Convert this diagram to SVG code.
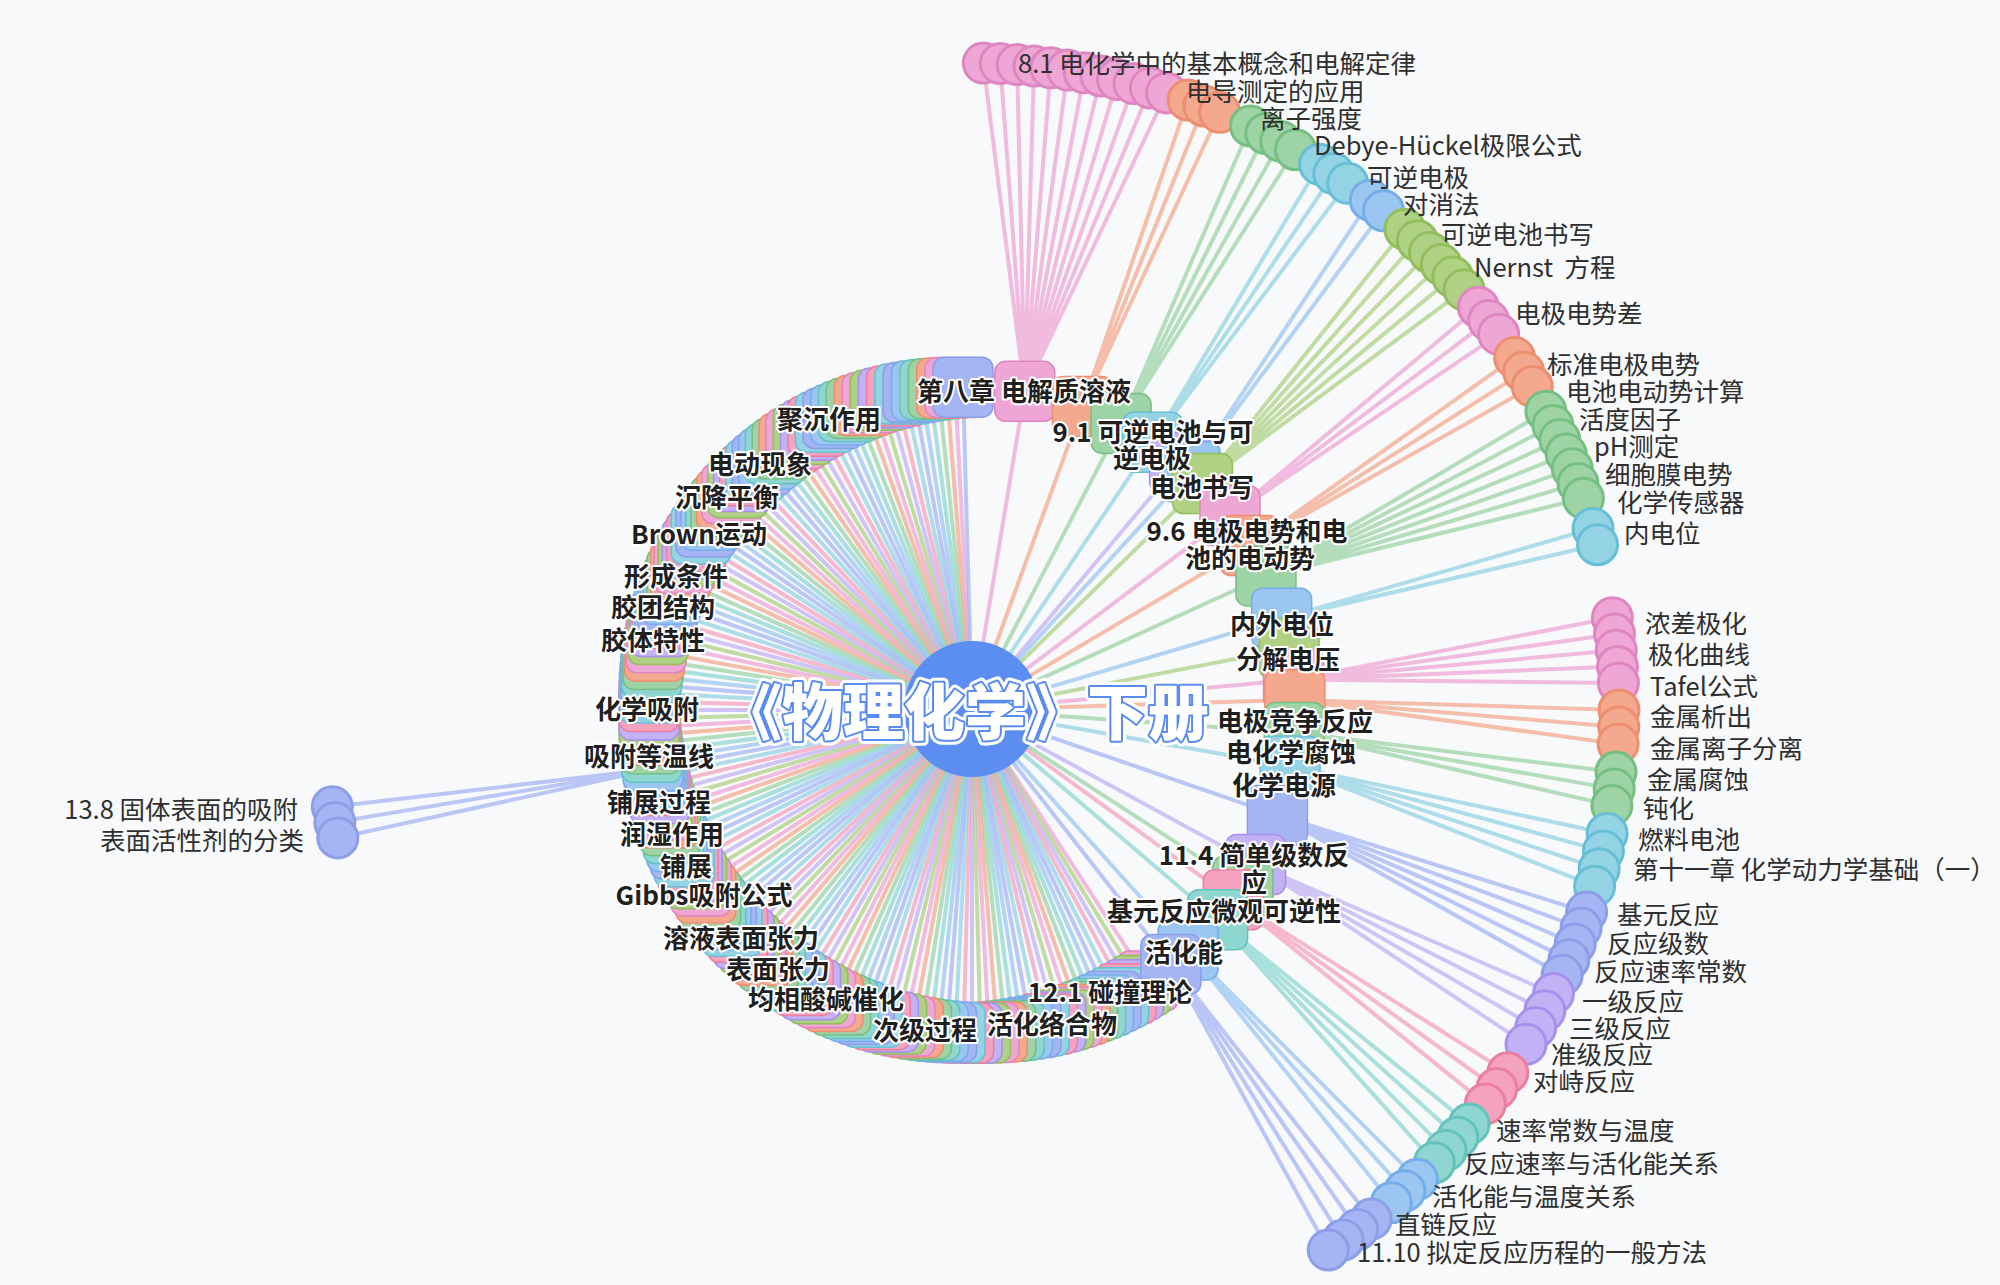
<svg xmlns="http://www.w3.org/2000/svg" xmlns:xlink="http://www.w3.org/1999/xlink" width="2000" height="1285" viewBox="0 0 2000 1285">
<style>
text{font-family:"Noto Sans CJK SC","Noto Sans",sans-serif}
#edges line,#edges path{fill:none;stroke-width:4;stroke-opacity:.75}
#edges .a{stroke:#a5b4f3}#edges .b{stroke:#9cc6f2}#edges .t{stroke:#8fd6d1}#edges .g{stroke:#9dd3a5}#edges .s{stroke:#f4a98f}
#edges .p{stroke:#eea6d4}#edges .o{stroke:#afd184}#edges .u{stroke:#c3b1f6}#edges .r{stroke:#f4a2bd}#edges .c{stroke:#94d3e3}
.N .a{fill:#a5b4f3;stroke:#8d9ee9}.N .b{fill:#9cc6f2;stroke:#74aeea}.N .t{fill:#8fd6d1;stroke:#62c3bc}.N .g{fill:#9dd3a5;stroke:#76bf83}.N .s{fill:#f4a98f;stroke:#ec8e6f}
.N .p{fill:#eea6d4;stroke:#df85c2}.N .o{fill:#afd184;stroke:#92be5e}.N .u{fill:#c3b1f6;stroke:#a690ee}.N .r{fill:#f4a2bd;stroke:#ea7fa1}.N .c{fill:#94d3e3;stroke:#66bfd6}
#ring use{stroke-width:1.5}
#leaves circle{stroke-width:3}
.lb{font-size:26px;font-weight:700;fill:#1f1f1f;stroke:#fff;stroke-width:4px;paint-order:stroke;stroke-linejoin:round;text-anchor:middle;dominant-baseline:central}
.ll{font-size:25.5px;fill:#2f2f2f;dominant-baseline:central}
.le{text-anchor:end}
</style>
<defs><rect id="q" x="-30" y="-30" width="60" height="60" rx="11"/></defs>
<rect width="2000" height="1285" fill="#f8f9fb"/>
<g id="edges">
<g id="spokes" transform="translate(972 710)">
<line class="p" x2="323" transform="rotate(57)"/><line class="o" x2="323" transform="rotate(58.5)"/><line class="u" x2="323" transform="rotate(60)"/><line class="r" x2="323" transform="rotate(61.5)"/><line class="c" x2="323" transform="rotate(63)"/><line class="a" x2="323" transform="rotate(64.5)"/><line class="b" x2="323" transform="rotate(66)"/><line class="t" x2="323" transform="rotate(67.5)"/><line class="g" x2="323" transform="rotate(69)"/><line class="s" x2="323" transform="rotate(70.5)"/>
<line class="p" x2="323" transform="rotate(72)"/><line class="o" x2="323" transform="rotate(73.5)"/><line class="u" x2="323" transform="rotate(75)"/><line class="r" x2="323" transform="rotate(76.5)"/><line class="c" x2="323" transform="rotate(78)"/><line class="a" x2="323" transform="rotate(79.5)"/><line class="b" x2="323" transform="rotate(81)"/><line class="t" x2="323" transform="rotate(82.5)"/><line class="g" x2="323" transform="rotate(84)"/><line class="s" x2="323" transform="rotate(85.5)"/>
<line class="p" x2="323" transform="rotate(87)"/><line class="o" x2="323" transform="rotate(88.5)"/><line class="u" x2="323" transform="rotate(90)"/><line class="r" x2="323" transform="rotate(91.5)"/><line class="c" x2="323" transform="rotate(93)"/><line class="a" x2="323" transform="rotate(94.5)"/><line class="b" x2="323" transform="rotate(96)"/><line class="t" x2="323" transform="rotate(97.5)"/><line class="g" x2="323" transform="rotate(99)"/><line class="s" x2="323" transform="rotate(100.5)"/>
<line class="p" x2="323" transform="rotate(102)"/><line class="o" x2="323" transform="rotate(103.5)"/><line class="u" x2="323" transform="rotate(105)"/><line class="r" x2="323" transform="rotate(106.5)"/><line class="c" x2="323" transform="rotate(108)"/><line class="a" x2="323" transform="rotate(109.5)"/><line class="b" x2="323" transform="rotate(111)"/><line class="t" x2="323" transform="rotate(112.5)"/><line class="g" x2="323" transform="rotate(114)"/><line class="s" x2="323" transform="rotate(115.5)"/>
<line class="p" x2="323" transform="rotate(117)"/><line class="o" x2="323" transform="rotate(118.5)"/><line class="u" x2="323" transform="rotate(120)"/><line class="r" x2="323" transform="rotate(121.5)"/><line class="c" x2="323" transform="rotate(123)"/><line class="a" x2="323" transform="rotate(124.5)"/><line class="b" x2="323" transform="rotate(126)"/><line class="t" x2="323" transform="rotate(127.5)"/><line class="g" x2="323" transform="rotate(129)"/><line class="s" x2="323" transform="rotate(130.5)"/>
<line class="p" x2="323" transform="rotate(132)"/><line class="o" x2="323" transform="rotate(133.5)"/><line class="u" x2="323" transform="rotate(135)"/><line class="r" x2="323" transform="rotate(136.5)"/><line class="c" x2="323" transform="rotate(138)"/><line class="a" x2="323" transform="rotate(139.5)"/><line class="b" x2="323" transform="rotate(141)"/><line class="t" x2="323" transform="rotate(142.5)"/><line class="g" x2="323" transform="rotate(144)"/><line class="s" x2="323" transform="rotate(145.5)"/>
<line class="p" x2="323" transform="rotate(147)"/><line class="o" x2="323" transform="rotate(148.5)"/><line class="u" x2="323" transform="rotate(150)"/><line class="r" x2="323" transform="rotate(151.5)"/><line class="c" x2="323" transform="rotate(153)"/><line class="a" x2="323" transform="rotate(154.5)"/><line class="b" x2="323" transform="rotate(156)"/><line class="t" x2="323" transform="rotate(157.5)"/><line class="g" x2="323" transform="rotate(159)"/><line class="s" x2="323" transform="rotate(160.5)"/>
<line class="p" x2="323" transform="rotate(162)"/><line class="o" x2="323" transform="rotate(163.5)"/><line class="u" x2="323" transform="rotate(165)"/><line class="r" x2="323" transform="rotate(166.5)"/><line class="c" x2="323" transform="rotate(168)"/><line class="a" x2="323" transform="rotate(169.5)"/><line class="b" x2="323" transform="rotate(171)"/><line class="t" x2="323" transform="rotate(172.5)"/><line class="g" x2="323" transform="rotate(174)"/><line class="s" x2="323" transform="rotate(175.5)"/>
<line class="p" x2="323" transform="rotate(177)"/><line class="o" x2="323" transform="rotate(178.5)"/><line class="u" x2="323" transform="rotate(180)"/><line class="r" x2="323" transform="rotate(181.5)"/><line class="c" x2="323" transform="rotate(183)"/><line class="a" x2="323" transform="rotate(184.5)"/><line class="b" x2="323" transform="rotate(186)"/><line class="t" x2="323" transform="rotate(187.5)"/><line class="g" x2="323" transform="rotate(189)"/><line class="s" x2="323" transform="rotate(190.5)"/>
<line class="p" x2="323" transform="rotate(192)"/><line class="o" x2="323" transform="rotate(193.5)"/><line class="u" x2="323" transform="rotate(195)"/><line class="r" x2="323" transform="rotate(196.5)"/><line class="c" x2="323" transform="rotate(198)"/><line class="a" x2="323" transform="rotate(199.5)"/><line class="b" x2="323" transform="rotate(201)"/><line class="t" x2="323" transform="rotate(202.5)"/><line class="g" x2="323" transform="rotate(204)"/><line class="s" x2="323" transform="rotate(205.5)"/>
<line class="p" x2="323" transform="rotate(207)"/><line class="o" x2="323" transform="rotate(208.5)"/><line class="u" x2="323" transform="rotate(210)"/><line class="r" x2="323" transform="rotate(211.5)"/><line class="c" x2="323" transform="rotate(213)"/><line class="a" x2="323" transform="rotate(214.5)"/><line class="b" x2="323" transform="rotate(216)"/><line class="t" x2="323" transform="rotate(217.5)"/><line class="g" x2="323" transform="rotate(219)"/><line class="s" x2="323" transform="rotate(220.5)"/>
<line class="p" x2="323" transform="rotate(222)"/><line class="o" x2="323" transform="rotate(223.5)"/><line class="u" x2="323" transform="rotate(225)"/><line class="r" x2="323" transform="rotate(226.5)"/><line class="c" x2="323" transform="rotate(228)"/><line class="a" x2="323" transform="rotate(229.5)"/><line class="b" x2="323" transform="rotate(231)"/><line class="t" x2="323" transform="rotate(232.5)"/><line class="g" x2="323" transform="rotate(234)"/><line class="s" x2="323" transform="rotate(235.5)"/>
<line class="p" x2="323" transform="rotate(237)"/><line class="o" x2="323" transform="rotate(238.5)"/><line class="u" x2="323" transform="rotate(240)"/><line class="r" x2="323" transform="rotate(241.5)"/><line class="c" x2="323" transform="rotate(243)"/><line class="a" x2="323" transform="rotate(244.5)"/><line class="b" x2="323" transform="rotate(246)"/><line class="t" x2="323" transform="rotate(247.5)"/><line class="g" x2="323" transform="rotate(249)"/><line class="s" x2="323" transform="rotate(250.5)"/>
<line class="p" x2="323" transform="rotate(252)"/><line class="o" x2="323" transform="rotate(253.5)"/><line class="u" x2="323" transform="rotate(255)"/><line class="r" x2="323" transform="rotate(256.5)"/><line class="c" x2="323" transform="rotate(258)"/><line class="a" x2="323" transform="rotate(259.5)"/><line class="b" x2="323" transform="rotate(261)"/><line class="t" x2="323" transform="rotate(262.5)"/><line class="g" x2="323" transform="rotate(264)"/><line class="s" x2="323" transform="rotate(265.5)"/>
<line class="p" x2="323" transform="rotate(267)"/><line class="a" x2="323" transform="rotate(268.4)"/>
<line class="p" x2="323" transform="rotate(-80.6)"/><line class="s" x2="323" transform="rotate(-70)"/><line class="g" x2="323" transform="rotate(-62.5)"/><line class="c" x2="323" transform="rotate(-56)"/><line class="u" x2="323" transform="rotate(-50)"/><line class="b" x2="323" transform="rotate(-47.5)"/><line class="o" x2="323" transform="rotate(-44.5)"/><line class="p" x2="323" transform="rotate(-37)"/><line class="s" x2="323" transform="rotate(-30.6)"/><line class="g" x2="323" transform="rotate(-24.5)"/><line class="b" x2="323" transform="rotate(-16.5)"/><line class="o" x2="323" transform="rotate(-11)"/>
<line class="p" x2="323" transform="rotate(-5.4)"/><line class="s" x2="323" transform="rotate(-1.8)"/><line class="g" x2="323" transform="rotate(4)"/><line class="c" x2="323" transform="rotate(10)"/><line class="a" x2="323" transform="rotate(19)"/><line class="u" x2="323" transform="rotate(28.6)"/><line class="g" x2="323" transform="rotate(33)"/><line class="r" x2="323" transform="rotate(36)"/><line class="t" x2="323" transform="rotate(40.5)"/><line class="b" x2="323" transform="rotate(48)"/><line class="a" x2="323" transform="rotate(52)"/>
</g>
<g id="leaf-edges">
<path class="p" d="M1024.7 391.3L983.3 63.1M1024.7 391.3L1000.2 63.6M1024.7 391.3L1017.1 64.6M1024.7 391.3L1034 66M1024.7 391.3L1050.8 67.8M1024.7 391.3L1067.6 70.1M1024.7 391.3L1084.4 72.8M1024.7 391.3L1101 76M1024.7 391.3L1117.5 79.6M1024.7 391.3L1134 83.6M1024.7 391.3L1150.3 88.1M1024.7 391.3L1166.6 92.9"/>
<path class="s" d="M1082.5 406.5L1188 100.1M1082.5 406.5L1203.9 106M1082.5 406.5L1219.6 112.3"/>
<path class="g" d="M1121.1 423.5L1250.5 126M1121.1 423.5L1265.7 133.5M1121.1 423.5L1280.7 141.4M1121.1 423.5L1295.5 149.7"/>
<path class="c" d="M1152.6 442.2L1319.6 164.3M1152.6 442.2L1333.8 173.6M1152.6 442.2L1347.7 183.3"/>
<path class="b" d="M1190.2 471.9L1370.3 200.2M1190.2 471.9L1383.5 210.8"/>
<path class="o" d="M1202.4 483.6L1404.9 229.2M1202.4 483.6L1417.4 240.7M1202.4 483.6L1429.5 252.5M1202.4 483.6L1441.3 264.6M1202.4 483.6L1452.8 277.1M1202.4 483.6L1464 289.8"/>
<path class="p" d="M1230 515.6L1478.4 307.2M1230 515.6L1488.7 320.6M1230 515.6L1498.7 334.3"/>
<path class="s" d="M1250 545.6L1514.6 357.6M1250 545.6L1523.7 371.9M1250 545.6L1532.3 386.5"/>
<path class="g" d="M1265.9 576.1L1545.9 411.2M1265.9 576.1L1553 425.4M1265.9 576.1L1559.8 439.6M1265.9 576.1L1566.2 454.1M1265.9 576.1L1572.3 468.7M1265.9 576.1L1578 483.4M1265.9 576.1L1583.4 498.3"/>
<path class="c" d="M1281.7 618.3L1593 528.4M1281.7 618.3L1597.5 544.7"/>
<path class="p" d="M1293.6 679.6L1612.4 617.7M1293.6 679.6L1614.5 634M1293.6 679.6L1616.2 650.2M1293.6 679.6L1617.5 666.6M1293.6 679.6L1618.4 682.9"/>
<path class="s" d="M1294.8 699.9L1619 710M1294.8 699.9L1618.8 726.9M1294.8 699.9L1618.1 743.9"/>
<path class="g" d="M1294.2 732.5L1616 772M1294.2 732.5L1614.2 788.9M1294.2 732.5L1611.9 805.6"/>
<path class="c" d="M1290.1 766.1L1607.1 833.5M1290.1 766.1L1603.4 851.1M1290.1 766.1L1599.2 868.7M1290.1 766.1L1594.6 886.2"/>
<path class="a" d="M1277.4 815.2L1586.6 912.1M1277.4 815.2L1581.1 928.1M1277.4 815.2L1575.2 944M1277.4 815.2L1568.9 959.7M1277.4 815.2L1562.1 975.2"/>
<path class="u" d="M1255.6 864.6L1553.5 993.6M1255.6 864.6L1544.8 1010.8M1255.6 864.6L1535.7 1027.6M1255.6 864.6L1526 1044.2"/>
<path class="r" d="M1233.3 899.9L1507.8 1072.7M1233.3 899.9L1496.8 1088.5M1233.3 899.9L1485.3 1103.9"/>
<path class="t" d="M1217.6 919.8L1469.1 1124.1M1217.6 919.8L1457.8 1137.3M1217.6 919.8L1446 1150.4M1217.6 919.8L1434.3 1162.7"/>
<path class="b" d="M1188.1 950L1417.4 1179.3M1188.1 950L1404.9 1190.8M1188.1 950L1391.3 1202.7"/>
<path class="a" d="M1170.9 964.5L1371.2 1219.1M1170.9 964.5L1357.6 1229.5M1170.9 964.5L1343.1 1240M1170.9 964.5L1328.3 1250"/>
<path class="a" d="M654.4 768.9L332.3 806.8M654.4 768.9L334.8 822.4M654.4 768.9L337.8 837.9"/>
</g>
</g>
<g id="ring" class="N" transform="translate(972 710)">
<g id="r0"><use href="#q" class="p" transform="rotate(57)translate(323)rotate(-57)"/></g><g id="r1"><use href="#q" class="o" transform="rotate(58.5)translate(323)rotate(-58.5)"/></g><g id="r2"><use href="#q" class="u" transform="rotate(60)translate(323)rotate(-60)"/></g><g id="r3"><use href="#q" class="r" transform="rotate(61.5)translate(323)rotate(-61.5)"/></g><g id="r4"><use href="#q" class="c" transform="rotate(63)translate(323)rotate(-63)"/></g><g id="r5"><use href="#q" class="a" transform="rotate(64.5)translate(323)rotate(-64.5)"/></g><g id="r6"><use href="#q" class="b" transform="rotate(66)translate(323)rotate(-66)"/></g><g id="r7"><use href="#q" class="t" transform="rotate(67.5)translate(323)rotate(-67.5)"/></g><g id="r8"><use href="#q" class="g" transform="rotate(69)translate(323)rotate(-69)"/></g><g id="r9"><use href="#q" class="s" transform="rotate(70.5)translate(323)rotate(-70.5)"/></g>
<g id="r10"><use href="#q" class="p" transform="rotate(72)translate(323)rotate(-72)"/></g><g id="r11"><use href="#q" class="o" transform="rotate(73.5)translate(323)rotate(-73.5)"/></g><g id="r12"><use href="#q" class="u" transform="rotate(75)translate(323)rotate(-75)"/></g><g id="r13"><use href="#q" class="r" transform="rotate(76.5)translate(323)rotate(-76.5)"/></g><g id="r14"><use href="#q" class="c" transform="rotate(78)translate(323)rotate(-78)"/></g><g id="r15"><use href="#q" class="a" transform="rotate(79.5)translate(323)rotate(-79.5)"/></g><g id="r16"><use href="#q" class="b" transform="rotate(81)translate(323)rotate(-81)"/></g><g id="r17"><use href="#q" class="t" transform="rotate(82.5)translate(323)rotate(-82.5)"/></g><g id="r18"><use href="#q" class="g" transform="rotate(84)translate(323)rotate(-84)"/></g><g id="r19"><use href="#q" class="s" transform="rotate(85.5)translate(323)rotate(-85.5)"/></g>
<g id="r20"><use href="#q" class="p" transform="rotate(87)translate(323)rotate(-87)"/></g><g id="r21"><use href="#q" class="o" transform="rotate(88.5)translate(323)rotate(-88.5)"/></g><g id="r22"><use href="#q" class="u" transform="rotate(90)translate(323)rotate(-90)"/></g><g id="r23"><use href="#q" class="r" transform="rotate(91.5)translate(323)rotate(-91.5)"/></g><g id="r24"><use href="#q" class="c" transform="rotate(93)translate(323)rotate(-93)"/></g><g id="r25"><use href="#q" class="a" transform="rotate(94.5)translate(323)rotate(-94.5)"/></g><g id="r26"><use href="#q" class="b" transform="rotate(96)translate(323)rotate(-96)"/></g><g id="r27"><use href="#q" class="t" transform="rotate(97.5)translate(323)rotate(-97.5)"/></g><g id="r28"><use href="#q" class="g" transform="rotate(99)translate(323)rotate(-99)"/></g><g id="r29"><use href="#q" class="s" transform="rotate(100.5)translate(323)rotate(-100.5)"/></g>
<g id="r30"><use href="#q" class="p" transform="rotate(102)translate(323)rotate(-102)"/></g><g id="r31"><use href="#q" class="o" transform="rotate(103.5)translate(323)rotate(-103.5)"/></g><g id="r32"><use href="#q" class="u" transform="rotate(105)translate(323)rotate(-105)"/></g><g id="r33"><use href="#q" class="r" transform="rotate(106.5)translate(323)rotate(-106.5)"/></g><g id="r34"><use href="#q" class="c" transform="rotate(108)translate(323)rotate(-108)"/></g><g id="r35"><use href="#q" class="a" transform="rotate(109.5)translate(323)rotate(-109.5)"/></g><g id="r36"><use href="#q" class="b" transform="rotate(111)translate(323)rotate(-111)"/></g><g id="r37"><use href="#q" class="t" transform="rotate(112.5)translate(323)rotate(-112.5)"/></g><g id="r38"><use href="#q" class="g" transform="rotate(114)translate(323)rotate(-114)"/></g><g id="r39"><use href="#q" class="s" transform="rotate(115.5)translate(323)rotate(-115.5)"/></g>
<g id="r40"><use href="#q" class="p" transform="rotate(117)translate(323)rotate(-117)"/></g><g id="r41"><use href="#q" class="o" transform="rotate(118.5)translate(323)rotate(-118.5)"/></g><g id="r42"><use href="#q" class="u" transform="rotate(120)translate(323)rotate(-120)"/></g><g id="r43"><use href="#q" class="r" transform="rotate(121.5)translate(323)rotate(-121.5)"/></g><g id="r44"><use href="#q" class="c" transform="rotate(123)translate(323)rotate(-123)"/></g><g id="r45"><use href="#q" class="a" transform="rotate(124.5)translate(323)rotate(-124.5)"/></g><g id="r46"><use href="#q" class="b" transform="rotate(126)translate(323)rotate(-126)"/></g><g id="r47"><use href="#q" class="t" transform="rotate(127.5)translate(323)rotate(-127.5)"/></g><g id="r48"><use href="#q" class="g" transform="rotate(129)translate(323)rotate(-129)"/></g><g id="r49"><use href="#q" class="s" transform="rotate(130.5)translate(323)rotate(-130.5)"/></g>
<g id="r50"><use href="#q" class="p" transform="rotate(132)translate(323)rotate(-132)"/></g><g id="r51"><use href="#q" class="o" transform="rotate(133.5)translate(323)rotate(-133.5)"/></g><g id="r52"><use href="#q" class="u" transform="rotate(135)translate(323)rotate(-135)"/></g><g id="r53"><use href="#q" class="r" transform="rotate(136.5)translate(323)rotate(-136.5)"/></g><g id="r54"><use href="#q" class="c" transform="rotate(138)translate(323)rotate(-138)"/></g><g id="r55"><use href="#q" class="a" transform="rotate(139.5)translate(323)rotate(-139.5)"/></g><g id="r56"><use href="#q" class="b" transform="rotate(141)translate(323)rotate(-141)"/></g><g id="r57"><use href="#q" class="t" transform="rotate(142.5)translate(323)rotate(-142.5)"/></g><g id="r58"><use href="#q" class="g" transform="rotate(144)translate(323)rotate(-144)"/></g><g id="r59"><use href="#q" class="s" transform="rotate(145.5)translate(323)rotate(-145.5)"/></g>
<g id="r60"><use href="#q" class="p" transform="rotate(147)translate(323)rotate(-147)"/></g><g id="r61"><use href="#q" class="o" transform="rotate(148.5)translate(323)rotate(-148.5)"/></g><g id="r62"><use href="#q" class="u" transform="rotate(150)translate(323)rotate(-150)"/></g><g id="r63"><use href="#q" class="r" transform="rotate(151.5)translate(323)rotate(-151.5)"/></g><g id="r64"><use href="#q" class="c" transform="rotate(153)translate(323)rotate(-153)"/></g><g id="r65"><use href="#q" class="a" transform="rotate(154.5)translate(323)rotate(-154.5)"/></g><g id="r66"><use href="#q" class="b" transform="rotate(156)translate(323)rotate(-156)"/></g><g id="r67"><use href="#q" class="t" transform="rotate(157.5)translate(323)rotate(-157.5)"/></g><g id="r68"><use href="#q" class="g" transform="rotate(159)translate(323)rotate(-159)"/></g><g id="r69"><use href="#q" class="s" transform="rotate(160.5)translate(323)rotate(-160.5)"/></g>
<g id="r70"><use href="#q" class="p" transform="rotate(162)translate(323)rotate(-162)"/></g><g id="r71"><use href="#q" class="o" transform="rotate(163.5)translate(323)rotate(-163.5)"/></g><g id="r72"><use href="#q" class="u" transform="rotate(165)translate(323)rotate(-165)"/></g><g id="r73"><use href="#q" class="r" transform="rotate(166.5)translate(323)rotate(-166.5)"/></g><g id="r74"><use href="#q" class="c" transform="rotate(168)translate(323)rotate(-168)"/></g><g id="r75"><use href="#q" class="a" transform="rotate(169.5)translate(323)rotate(-169.5)"/></g><g id="r76"><use href="#q" class="b" transform="rotate(171)translate(323)rotate(-171)"/></g><g id="r77"><use href="#q" class="t" transform="rotate(172.5)translate(323)rotate(-172.5)"/></g><g id="r78"><use href="#q" class="g" transform="rotate(174)translate(323)rotate(-174)"/></g><g id="r79"><use href="#q" class="s" transform="rotate(175.5)translate(323)rotate(-175.5)"/></g>
<g id="r80"><use href="#q" class="p" transform="rotate(177)translate(323)rotate(-177)"/></g><g id="r81"><use href="#q" class="o" transform="rotate(178.5)translate(323)rotate(-178.5)"/></g><g id="r82"><use href="#q" class="u" transform="rotate(180)translate(323)rotate(-180)"/></g><g id="r83"><use href="#q" class="r" transform="rotate(181.5)translate(323)rotate(-181.5)"/></g><g id="r84"><use href="#q" class="c" transform="rotate(183)translate(323)rotate(-183)"/></g><g id="r85"><use href="#q" class="a" transform="rotate(184.5)translate(323)rotate(-184.5)"/></g><g id="r86"><use href="#q" class="b" transform="rotate(186)translate(323)rotate(-186)"/></g><g id="r87"><use href="#q" class="t" transform="rotate(187.5)translate(323)rotate(-187.5)"/></g><g id="r88"><use href="#q" class="g" transform="rotate(189)translate(323)rotate(-189)"/></g><g id="r89"><use href="#q" class="s" transform="rotate(190.5)translate(323)rotate(-190.5)"/></g>
<g id="r90"><use href="#q" class="p" transform="rotate(192)translate(323)rotate(-192)"/></g><g id="r91"><use href="#q" class="o" transform="rotate(193.5)translate(323)rotate(-193.5)"/></g><g id="r92"><use href="#q" class="u" transform="rotate(195)translate(323)rotate(-195)"/></g><g id="r93"><use href="#q" class="r" transform="rotate(196.5)translate(323)rotate(-196.5)"/></g><g id="r94"><use href="#q" class="c" transform="rotate(198)translate(323)rotate(-198)"/></g><g id="r95"><use href="#q" class="a" transform="rotate(199.5)translate(323)rotate(-199.5)"/></g><g id="r96"><use href="#q" class="b" transform="rotate(201)translate(323)rotate(-201)"/></g><g id="r97"><use href="#q" class="t" transform="rotate(202.5)translate(323)rotate(-202.5)"/></g><g id="r98"><use href="#q" class="g" transform="rotate(204)translate(323)rotate(-204)"/></g><g id="r99"><use href="#q" class="s" transform="rotate(205.5)translate(323)rotate(-205.5)"/></g>
<g id="r100"><use href="#q" class="p" transform="rotate(207)translate(323)rotate(-207)"/></g><g id="r101"><use href="#q" class="o" transform="rotate(208.5)translate(323)rotate(-208.5)"/></g><g id="r102"><use href="#q" class="u" transform="rotate(210)translate(323)rotate(-210)"/></g><g id="r103"><use href="#q" class="r" transform="rotate(211.5)translate(323)rotate(-211.5)"/></g><g id="r104"><use href="#q" class="c" transform="rotate(213)translate(323)rotate(-213)"/></g><g id="r105"><use href="#q" class="a" transform="rotate(214.5)translate(323)rotate(-214.5)"/></g><g id="r106"><use href="#q" class="b" transform="rotate(216)translate(323)rotate(-216)"/></g><g id="r107"><use href="#q" class="t" transform="rotate(217.5)translate(323)rotate(-217.5)"/></g><g id="r108"><use href="#q" class="g" transform="rotate(219)translate(323)rotate(-219)"/></g><g id="r109"><use href="#q" class="s" transform="rotate(220.5)translate(323)rotate(-220.5)"/></g>
<g id="r110"><use href="#q" class="p" transform="rotate(222)translate(323)rotate(-222)"/></g><g id="r111"><use href="#q" class="o" transform="rotate(223.5)translate(323)rotate(-223.5)"/></g><g id="r112"><use href="#q" class="u" transform="rotate(225)translate(323)rotate(-225)"/></g><g id="r113"><use href="#q" class="r" transform="rotate(226.5)translate(323)rotate(-226.5)"/></g><g id="r114"><use href="#q" class="c" transform="rotate(228)translate(323)rotate(-228)"/></g><g id="r115"><use href="#q" class="a" transform="rotate(229.5)translate(323)rotate(-229.5)"/></g><g id="r116"><use href="#q" class="b" transform="rotate(231)translate(323)rotate(-231)"/></g><g id="r117"><use href="#q" class="t" transform="rotate(232.5)translate(323)rotate(-232.5)"/></g><g id="r118"><use href="#q" class="g" transform="rotate(234)translate(323)rotate(-234)"/></g><g id="r119"><use href="#q" class="s" transform="rotate(235.5)translate(323)rotate(-235.5)"/></g>
<g id="r120"><use href="#q" class="p" transform="rotate(237)translate(323)rotate(-237)"/></g><g id="r121"><use href="#q" class="o" transform="rotate(238.5)translate(323)rotate(-238.5)"/></g><g id="r122"><use href="#q" class="u" transform="rotate(240)translate(323)rotate(-240)"/></g><g id="r123"><use href="#q" class="r" transform="rotate(241.5)translate(323)rotate(-241.5)"/></g><g id="r124"><use href="#q" class="c" transform="rotate(243)translate(323)rotate(-243)"/></g><g id="r125"><use href="#q" class="a" transform="rotate(244.5)translate(323)rotate(-244.5)"/></g><g id="r126"><use href="#q" class="b" transform="rotate(246)translate(323)rotate(-246)"/></g><g id="r127"><use href="#q" class="t" transform="rotate(247.5)translate(323)rotate(-247.5)"/></g><g id="r128"><use href="#q" class="g" transform="rotate(249)translate(323)rotate(-249)"/></g><g id="r129"><use href="#q" class="s" transform="rotate(250.5)translate(323)rotate(-250.5)"/></g>
<g id="r130"><use href="#q" class="p" transform="rotate(252)translate(323)rotate(-252)"/></g><g id="r131"><use href="#q" class="o" transform="rotate(253.5)translate(323)rotate(-253.5)"/></g><g id="r132"><use href="#q" class="u" transform="rotate(255)translate(323)rotate(-255)"/></g><g id="r133"><use href="#q" class="r" transform="rotate(256.5)translate(323)rotate(-256.5)"/></g><g id="r134"><use href="#q" class="c" transform="rotate(258)translate(323)rotate(-258)"/></g><g id="r135"><use href="#q" class="a" transform="rotate(259.5)translate(323)rotate(-259.5)"/></g><g id="r136"><use href="#q" class="b" transform="rotate(261)translate(323)rotate(-261)"/></g><g id="r137"><use href="#q" class="t" transform="rotate(262.5)translate(323)rotate(-262.5)"/></g><g id="r138"><use href="#q" class="g" transform="rotate(264)translate(323)rotate(-264)"/></g><g id="r139"><use href="#q" class="s" transform="rotate(265.5)translate(323)rotate(-265.5)"/></g>
<g id="r140"><use href="#q" class="p" transform="rotate(267)translate(323)rotate(-267)"/></g><g id="r141"><use href="#q" class="a" transform="rotate(268.4)translate(323)rotate(-268.4)"/></g>
<g id="ch8"><use href="#q" class="p" transform="rotate(-80.6)translate(323)rotate(80.6)"/></g>
<g id="n-8b"><use href="#q" class="s" transform="rotate(-70)translate(323)rotate(70)"/></g>
<g id="n-8c"><use href="#q" class="g" transform="rotate(-62.5)translate(323)rotate(62.5)"/></g>
<g id="s9-1"><use href="#q" class="c" transform="rotate(-56)translate(323)rotate(56)"/></g>
<g id="n-9a"><use href="#q" class="u" transform="rotate(-50)translate(323)rotate(50)"/></g>
<g id="n-9b"><use href="#q" class="b" transform="rotate(-47.5)translate(323)rotate(47.5)"/></g>
<g id="battery-writing"><use href="#q" class="o" transform="rotate(-44.5)translate(323)rotate(44.5)"/></g>
<g id="n-9c"><use href="#q" class="p" transform="rotate(-37)translate(323)rotate(37)"/></g>
<g id="s9-6"><use href="#q" class="s" transform="rotate(-30.6)translate(323)rotate(30.6)"/></g>
<g id="n-9d"><use href="#q" class="g" transform="rotate(-24.5)translate(323)rotate(24.5)"/></g>
<g id="inner-outer-potential"><use href="#q" class="b" transform="rotate(-16.5)translate(323)rotate(16.5)"/></g>
<g id="decomposition-voltage"><use href="#q" class="o" transform="rotate(-11)translate(323)rotate(11)"/></g>
<g id="n-10a"><use href="#q" class="p" transform="rotate(-5.4)translate(323)rotate(5.4)"/></g>
<g id="electrode-competition"><use href="#q" class="s" transform="rotate(-1.8)translate(323)rotate(1.8)"/></g>
<g id="corrosion"><use href="#q" class="g" transform="rotate(4)translate(323)rotate(-4)"/></g>
<g id="chem-power"><use href="#q" class="c" transform="rotate(10)translate(323)rotate(-10)"/></g>
<g id="n-11a"><use href="#q" class="a" transform="rotate(19)translate(323)rotate(-19)"/></g>
<g id="s11-4"><use href="#q" class="u" transform="rotate(28.6)translate(323)rotate(-28.6)"/></g>
<g id="n-11b"><use href="#q" class="g" transform="rotate(33)translate(323)rotate(-33)"/></g>
<g id="micro-reversibility"><use href="#q" class="r" transform="rotate(36)translate(323)rotate(-36)"/></g>
<g id="n-11c"><use href="#q" class="t" transform="rotate(40.5)translate(323)rotate(-40.5)"/></g>
<g id="activation-energy"><use href="#q" class="b" transform="rotate(48)translate(323)rotate(-48)"/></g>
<g id="n-11d"><use href="#q" class="a" transform="rotate(52)translate(323)rotate(-52)"/></g>
</g>
<g id="leaves" class="N">
<g id="A1"><circle class="p" cx="983.3" cy="63.1" r="20"/></g><g id="A2"><circle class="p" cx="1000.2" cy="63.6" r="20"/></g><g id="A3"><circle class="p" cx="1017.1" cy="64.6" r="20"/></g><g id="A4"><circle class="p" cx="1034" cy="66" r="20"/></g><g id="A5"><circle class="p" cx="1050.8" cy="67.8" r="20"/></g><g id="A6"><circle class="p" cx="1067.6" cy="70.1" r="20"/></g><g id="A7"><circle class="p" cx="1084.4" cy="72.8" r="20"/></g><g id="A8"><circle class="p" cx="1101" cy="76" r="20"/></g><g id="A9"><circle class="p" cx="1117.5" cy="79.6" r="20"/></g><g id="A10"><circle class="p" cx="1134" cy="83.6" r="20"/></g><g id="A11"><circle class="p" cx="1150.3" cy="88.1" r="20"/></g><g id="A12"><circle class="p" cx="1166.6" cy="92.9" r="20"/></g>
<g id="B1"><circle class="s" cx="1188" cy="100.1" r="20"/></g><g id="B2"><circle class="s" cx="1203.9" cy="106" r="20"/></g><g id="B3"><circle class="s" cx="1219.6" cy="112.3" r="20"/></g>
<g id="C1"><circle class="g" cx="1250.5" cy="126" r="20"/></g><g id="C2"><circle class="g" cx="1265.7" cy="133.5" r="20"/></g><g id="C3"><circle class="g" cx="1280.7" cy="141.4" r="20"/></g><g id="C4"><circle class="g" cx="1295.5" cy="149.7" r="20"/></g>
<g id="D1"><circle class="c" cx="1319.6" cy="164.3" r="20"/></g><g id="D2"><circle class="c" cx="1333.8" cy="173.6" r="20"/></g><g id="D3"><circle class="c" cx="1347.7" cy="183.3" r="20"/></g>
<g id="E1"><circle class="b" cx="1370.3" cy="200.2" r="20"/></g><g id="E2"><circle class="b" cx="1383.5" cy="210.8" r="20"/></g>
<g id="F1"><circle class="o" cx="1404.9" cy="229.2" r="20"/></g><g id="F2"><circle class="o" cx="1417.4" cy="240.7" r="20"/></g><g id="F3"><circle class="o" cx="1429.5" cy="252.5" r="20"/></g><g id="F4"><circle class="o" cx="1441.3" cy="264.6" r="20"/></g><g id="F5"><circle class="o" cx="1452.8" cy="277.1" r="20"/></g><g id="F6"><circle class="o" cx="1464" cy="289.8" r="20"/></g>
<g id="G1"><circle class="p" cx="1478.4" cy="307.2" r="20"/></g><g id="G2"><circle class="p" cx="1488.7" cy="320.6" r="20"/></g><g id="G3"><circle class="p" cx="1498.7" cy="334.3" r="20"/></g>
<g id="H1"><circle class="s" cx="1514.6" cy="357.6" r="20"/></g><g id="H2"><circle class="s" cx="1523.7" cy="371.9" r="20"/></g><g id="H3"><circle class="s" cx="1532.3" cy="386.5" r="20"/></g>
<g id="I1"><circle class="g" cx="1545.9" cy="411.2" r="20"/></g><g id="I2"><circle class="g" cx="1553" cy="425.4" r="20"/></g><g id="I3"><circle class="g" cx="1559.8" cy="439.6" r="20"/></g><g id="I4"><circle class="g" cx="1566.2" cy="454.1" r="20"/></g><g id="I5"><circle class="g" cx="1572.3" cy="468.7" r="20"/></g><g id="I6"><circle class="g" cx="1578" cy="483.4" r="20"/></g><g id="I7"><circle class="g" cx="1583.4" cy="498.3" r="20"/></g>
<g id="J1"><circle class="c" cx="1593" cy="528.4" r="20"/></g><g id="J2"><circle class="c" cx="1597.5" cy="544.7" r="20"/></g>
<g id="K1"><circle class="p" cx="1612.4" cy="617.7" r="20"/></g><g id="K2"><circle class="p" cx="1614.5" cy="634" r="20"/></g><g id="K3"><circle class="p" cx="1616.2" cy="650.2" r="20"/></g><g id="K4"><circle class="p" cx="1617.5" cy="666.6" r="20"/></g><g id="K5"><circle class="p" cx="1618.4" cy="682.9" r="20"/></g>
<g id="L1"><circle class="s" cx="1619" cy="710" r="20"/></g><g id="L2"><circle class="s" cx="1618.8" cy="726.9" r="20"/></g><g id="L3"><circle class="s" cx="1618.1" cy="743.9" r="20"/></g>
<g id="M1"><circle class="g" cx="1616" cy="772" r="20"/></g><g id="M2"><circle class="g" cx="1614.2" cy="788.9" r="20"/></g><g id="M3"><circle class="g" cx="1611.9" cy="805.6" r="20"/></g>
<g id="N1"><circle class="c" cx="1607.1" cy="833.5" r="20"/></g><g id="N2"><circle class="c" cx="1603.4" cy="851.1" r="20"/></g><g id="N3"><circle class="c" cx="1599.2" cy="868.7" r="20"/></g><g id="N4"><circle class="c" cx="1594.6" cy="886.2" r="20"/></g>
<g id="O1"><circle class="a" cx="1586.6" cy="912.1" r="20"/></g><g id="O2"><circle class="a" cx="1581.1" cy="928.1" r="20"/></g><g id="O3"><circle class="a" cx="1575.2" cy="944" r="20"/></g><g id="O4"><circle class="a" cx="1568.9" cy="959.7" r="20"/></g><g id="O5"><circle class="a" cx="1562.1" cy="975.2" r="20"/></g>
<g id="P1"><circle class="u" cx="1553.5" cy="993.6" r="20"/></g><g id="P2"><circle class="u" cx="1544.8" cy="1010.8" r="20"/></g><g id="P3"><circle class="u" cx="1535.7" cy="1027.6" r="20"/></g><g id="P4"><circle class="u" cx="1526" cy="1044.2" r="20"/></g>
<g id="Q1"><circle class="r" cx="1507.8" cy="1072.7" r="20"/></g><g id="Q2"><circle class="r" cx="1496.8" cy="1088.5" r="20"/></g><g id="Q3"><circle class="r" cx="1485.3" cy="1103.9" r="20"/></g>
<g id="R1"><circle class="t" cx="1469.1" cy="1124.1" r="20"/></g><g id="R2"><circle class="t" cx="1457.8" cy="1137.3" r="20"/></g><g id="R3"><circle class="t" cx="1446" cy="1150.4" r="20"/></g><g id="R4"><circle class="t" cx="1434.3" cy="1162.7" r="20"/></g>
<g id="S1"><circle class="b" cx="1417.4" cy="1179.3" r="20"/></g><g id="S2"><circle class="b" cx="1404.9" cy="1190.8" r="20"/></g><g id="S3"><circle class="b" cx="1391.3" cy="1202.7" r="20"/></g>
<g id="T1"><circle class="a" cx="1371.2" cy="1219.1" r="20"/></g><g id="T2"><circle class="a" cx="1357.6" cy="1229.5" r="20"/></g><g id="T3"><circle class="a" cx="1343.1" cy="1240" r="20"/></g><g id="T4"><circle class="a" cx="1328.3" cy="1250" r="20"/></g>
<g id="U1"><circle class="a" cx="332.3" cy="806.8" r="20"/></g><g id="U2"><circle class="a" cx="334.8" cy="822.4" r="20"/></g><g id="U3"><circle class="a" cx="337.8" cy="837.9" r="20"/></g>
</g>
<g id="root">
<circle cx="972" cy="709" r="68" fill="#5b8ef0"/>
<text x="965" y="708" font-size="61" font-weight="900" text-anchor="middle" dominant-baseline="central" fill="#fff" stroke="#fff" stroke-width="10" stroke-linejoin="round">《物理化学》下册</text>
<text x="965" y="708" font-size="61" font-weight="900" text-anchor="middle" dominant-baseline="central" fill="#fff" stroke="#5a8bf0" stroke-width="4" stroke-linejoin="round" paint-order="stroke">《物理化学》下册</text>
</g>
<g id="ring-labels" class="lb">
<text x="1024" y="389">第八章 电解质溶液</text>
<text x="1153" y="430">9.1 可逆电池与可</text><text x="1152" y="456">逆电极</text>
<text x="1202" y="485">电池书写</text>
<text x="1247" y="529">9.6 电极电势和电</text><text x="1250" y="556">池的电动势</text>
<text x="1282" y="622">内外电位</text>
<text x="1288" y="657">分解电压</text>
<text x="1295" y="719">电极竞争反应</text>
<text x="1291" y="750">电化学腐蚀</text>
<text x="1284" y="783">化学电源</text>
<text x="1254" y="853">11.4 简单级数反</text><text x="1254" y="880">应</text>
<text x="1224" y="909">基元反应微观可逆性</text>
<text x="1184" y="950">活化能</text>
<text x="1110" y="990">12.1 碰撞理论</text>
<text x="1052" y="1022">活化络合物</text>
<text x="925" y="1028">次级过程</text>
<text x="826" y="997">均相酸碱催化</text>
<text x="778" y="967">表面张力</text>
<text x="741" y="936">溶液表面张力</text>
<text x="704" y="893">Gibbs吸附公式</text>
<text x="686" y="864">铺展</text>
<text x="672" y="832">润湿作用</text>
<text x="659" y="800">铺展过程</text>
<text x="649" y="754">吸附等温线</text>
<text x="647" y="707">化学吸附</text>
<text x="653" y="638">胶体特性</text>
<text x="663" y="605">胶团结构</text>
<text x="676" y="574">形成条件</text>
<text x="699" y="532">Brown运动</text>
<text x="727" y="495">沉降平衡</text>
<text x="760" y="462">电动现象</text>
<text x="829" y="417">聚沉作用</text>
</g>
<g id="leaf-labels" class="ll">
<text x="1018" y="61">8.1 电化学中的基本概念和电解定律</text>
<text x="1186" y="89">电导测定的应用</text>
<text x="1260" y="116">离子强度</text>
<text x="1314" y="143">Debye-Hückel极限公式</text>
<text x="1367" y="175">可逆电极</text>
<text x="1403" y="202">对消法</text>
<text x="1441" y="232">可逆电池书写</text>
<text x="1474" y="265" style="white-space:pre">Nernst  方程</text>
<text x="1515" y="311">电极电势差</text>
<text x="1547" y="362">标准电极电势</text>
<text x="1566" y="389">电池电动势计算</text>
<text x="1579" y="417">活度因子</text>
<text x="1594" y="444">pH测定</text>
<text x="1605" y="472">细胞膜电势</text>
<text x="1617" y="500">化学传感器</text>
<text x="1624" y="531">内电位</text>
<text x="1645" y="621">浓差极化</text>
<text x="1648" y="652">极化曲线</text>
<text x="1650" y="684">Tafel公式</text>
<text x="1650" y="714">金属析出</text>
<text x="1650" y="746">金属离子分离</text>
<text x="1647" y="777">金属腐蚀</text>
<text x="1643" y="806">钝化</text>
<text x="1638" y="837">燃料电池</text>
<text x="1633" y="867">第十一章 化学动力学基础（一）</text>
<text x="1617" y="912">基元反应</text>
<text x="1607" y="941">反应级数</text>
<text x="1594" y="969">反应速率常数</text>
<text x="1582" y="999">一级反应</text>
<text x="1569" y="1026">三级反应</text>
<text x="1551" y="1052">准级反应</text>
<text x="1533" y="1079">对峙反应</text>
<text x="1496" y="1128">速率常数与温度</text>
<text x="1464" y="1161">反应速率与活化能关系</text>
<text x="1432" y="1194">活化能与温度关系</text>
<text x="1395" y="1222">直链反应</text>
<text x="1357" y="1250">11.10 拟定反应历程的一般方法</text>
<text class="le" x="298" y="807">13.8 固体表面的吸附</text>
<text class="le" x="304" y="838">表面活性剂的分类</text>
</g>
</svg>
